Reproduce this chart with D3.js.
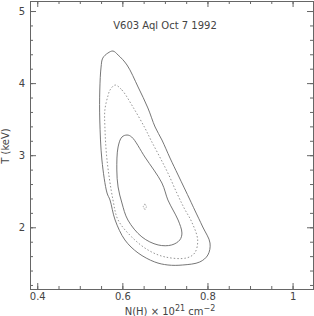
<!DOCTYPE html>
<meta charset="utf-8">
<html>
<head>
<script src="https://d3js.org/d3.v7.min.js"></script>
<style>
    body { margin: 0; background: #fff; }
    text { font-family: "DejaVu Sans", sans-serif; fill: #444; }
</style>
</head>
<body>
<svg id="chart"></svg>
<script>

// contour levels: [N(H), T]
var outerContour = [[0.578,4.445],[0.590,4.390],[0.611,4.251],[0.637,3.946],[0.660,3.655],[0.677,3.391],
    [0.693,3.211],[0.712,2.961],[0.731,2.725],[0.759,2.379],[0.770,2.240],[0.789,2.004],[0.806,1.782],
    [0.801,1.616],[0.782,1.519],[0.742,1.477],[0.707,1.477],[0.676,1.519],[0.637,1.644],[0.606,1.824],
    [0.583,2.101],[0.571,2.379],[0.564,2.476],[0.552,2.933],[0.547,3.488],[0.547,3.904],[0.550,4.223],
    [0.554,4.347],[0.566,4.417]]
var middleContour = [[0.583,3.973],[0.599,3.904],[0.625,3.668],[0.653,3.377],[0.667,3.211],[0.688,2.974],
    [0.707,2.753],[0.728,2.476],[0.745,2.268],[0.763,2.074],[0.777,1.824],[0.770,1.644],[0.751,1.575],
    [0.700,1.589],[0.660,1.686],[0.622,1.866],[0.590,2.101],[0.578,2.379],[0.564,2.933],[0.559,3.391],
    [0.559,3.630],[0.566,3.820],[0.571,3.904]]
var innerContour = [[0.611,3.280],[0.622,3.252],[0.653,2.975],[0.693,2.614],[0.707,2.379],[0.719,2.240],
    [0.731,2.101],[0.740,1.921],[0.735,1.824],[0.716,1.755],[0.684,1.755],[0.646,1.866],[0.613,2.101],
    [0.599,2.337],[0.590,2.559],[0.587,2.795],[0.590,3.114],[0.599,3.252]]
var bestFit = [0.653, 2.285]

var xMajor = [0.4, 0.6, 0.8, 1.0]
var yMajor = [2, 3, 4, 5]

var width = 314, height = 316
var mLeft = 30, mRight = 313, mTop = 1, mBottom = 289

var svg = d3.select("#chart").attr("width", width).attr("height", height)

var x = d3.scaleLinear().domain([0.383, 1.048]).range([mLeft, mRight])
var y = d3.scaleLinear().domain([1.144, 5.139]).range([mBottom, mTop])

var xMinor = d3.range(0.4, 1.0001, 0.05)
var yMinor = d3.range(1.2, 5.0001, 0.2)

function fmt(d) { return d == 1 ? "1" : d3.format(".1f")(d) }

// minor ticks on all four sides
svg.append("g").attr("transform", "translate(0," + mBottom + ")")
    .call(d3.axisBottom(x).tickValues(xMinor).tickSize(-3).tickFormat(""))
svg.append("g").attr("transform", "translate(0," + mTop + ")")
    .call(d3.axisTop(x).tickValues(xMinor).tickSize(-3).tickFormat(""))
svg.append("g").attr("transform", "translate(" + mLeft + ",0)")
    .call(d3.axisLeft(y).tickValues(yMinor).tickSize(-3).tickFormat(""))
svg.append("g").attr("transform", "translate(" + mRight + ",0)")
    .call(d3.axisRight(y).tickValues(yMinor).tickSize(-3).tickFormat(""))

// major ticks + labels
svg.append("g").attr("transform", "translate(0," + mBottom + ")")
    .call(d3.axisBottom(x).tickValues(xMajor).tickSize(-6).tickPadding(4).tickFormat(fmt))
svg.append("g").attr("transform", "translate(0," + mTop + ")")
    .call(d3.axisTop(x).tickValues(xMajor).tickSize(-6).tickFormat(""))
svg.append("g").attr("transform", "translate(" + mLeft + ",0)")
    .call(d3.axisLeft(y).tickValues(yMajor).tickSize(-6).tickPadding(5).tickFormat(d3.format("d")))
svg.append("g").attr("transform", "translate(" + mRight + ",0)")
    .call(d3.axisRight(y).tickValues(yMajor).tickSize(-6).tickFormat(""))

svg.selectAll(".domain, .tick line").attr("stroke", "#666")
svg.selectAll(".tick text").attr("font-size", 10).attr("fill", "#444")

var line = d3.line().x(d => x(d[0])).y(d => y(d[1])).curve(d3.curveCatmullRomClosed)

svg.append("path").attr("d", line(outerContour))
    .attr("fill", "none").attr("stroke", "#666").attr("stroke-width", 0.9)
svg.append("path").attr("d", line(middleContour))
    .attr("fill", "none").attr("stroke", "#888").attr("stroke-width", 0.9).attr("stroke-dasharray", "1.5,2")
svg.append("path").attr("d", line(innerContour))
    .attr("fill", "none").attr("stroke", "#666").attr("stroke-width", 0.9)

// best fit marker
svg.append("path")
    .attr("d", d3.symbol().type(d3.symbolDiamond).size(10)())
    .attr("transform", "translate(" + x(bestFit[0]) + "," + y(bestFit[1]) + ")")
    .attr("fill", "none").attr("stroke", "#888").attr("stroke-width", 0.8).attr("stroke-dasharray", "1,1")

// title
svg.append("text").attr("x", 165).attr("y", 29).attr("text-anchor", "middle")
    .attr("font-size", 10).text("V603 Aql Oct 7 1992")

// y axis title
svg.append("text").attr("transform", "translate(9,146) rotate(-90)")
    .attr("text-anchor", "middle").attr("font-size", 10).text("T (keV)")

// x axis title
var xt = svg.append("text").attr("x", 170).attr("y", 315).attr("text-anchor", "middle").attr("font-size", 10)
xt.append("tspan").text("N(H) × 10")
xt.append("tspan").attr("dy", -4).attr("font-size", 8).text("21")
xt.append("tspan").attr("dy", 4).text(" cm")
xt.append("tspan").attr("dy", -4).attr("font-size", 8).text("−2")

</script>
</body>
</html>
